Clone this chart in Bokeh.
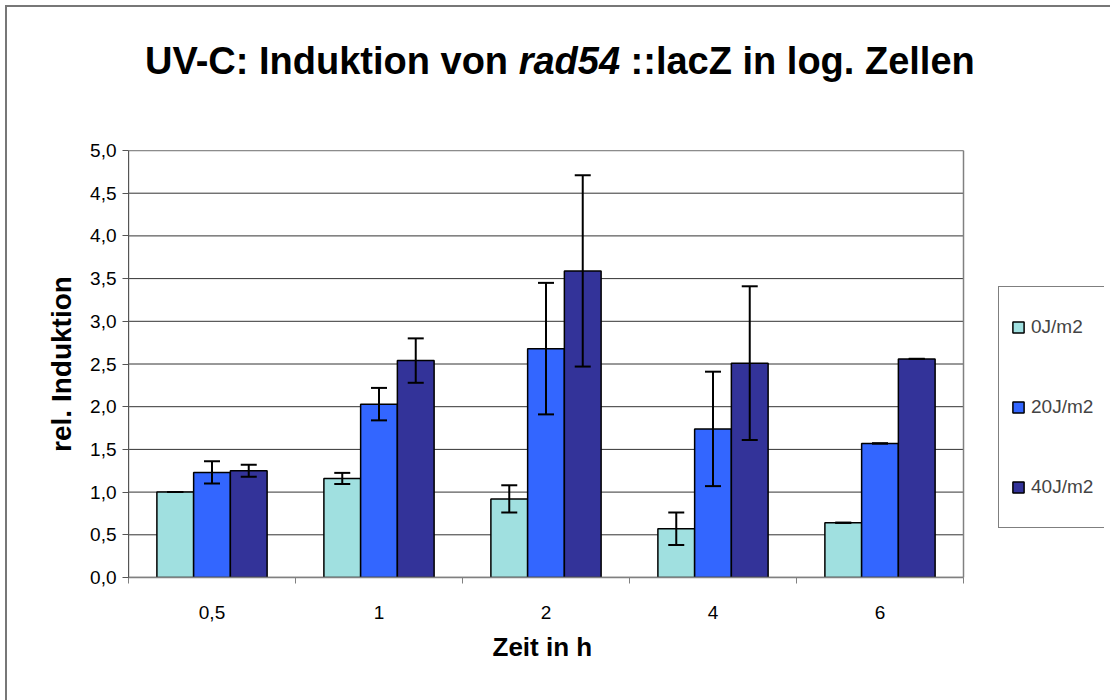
from bokeh.plotting import figure
from bokeh.models import (Range1d, FixedTicker, CustomJSTickFormatter, Legend, LegendItem,
                          Whisker, ColumnDataSource, TeeHead, Div, Title)
from bokeh.layouts import column
from bokeh.embed import file_html
from bokeh.resources import INLINE

# ---- data ----
times = ["0,5", "1", "2", "4", "6"]
series = ["0J/m2", "20J/m2", "40J/m2"]
colors = ["#A0E0E0", "#3366FF", "#333399"]
vals_0 = [1.00, 1.16, 0.92, 0.57, 0.64]
vals_20 = [1.23, 2.03, 2.68, 1.74, 1.57]
vals_40 = [1.25, 2.54, 3.59, 2.51, 2.56]
err_0 = [0.0, 0.065, 0.16, 0.19, 0.0]
err_20 = [0.13, 0.19, 0.77, 0.67, 0.0]
err_40 = [0.07, 0.26, 1.12, 0.90, 0.0]
y_ticks = [0.0, 0.5, 1.0, 1.5, 2.0, 2.5, 3.0, 3.5, 4.0, 4.5, 5.0]
x_title = "Zeit  in h"
y_title = "rel. Induktion"

FONT = "Liberation Sans"
W = 1106
H = 696
DIV_H = 100
PLOT_L, PLOT_R, PLOT_T, PLOT_B = 128, 963, 150, 577   # plot-area edges (px)
N = len(times)
x_end = N * (W - 2 - PLOT_L) / (PLOT_R - PLOT_L)     # frame extends right to hold legend

title_html = (
    '<div style="position:absolute;left:5px;top:5px;width:1300px;height:900px;'
    'border-left:2px solid #777;border-top:2px solid #777;pointer-events:none;"></div>'
    '<div style="position:absolute;left:145px;top:43px;line-height:37px;white-space:nowrap;'
    "font-family:'Liberation Sans',Arial,sans-serif;font-weight:bold;font-size:38px;color:black;\">"
    'UV-C: Induktion von <i>rad54</i> ::lacZ in log. Zellen</div>'
)
title_div = Div(text=title_html, width=W, height=DIV_H, margin=0,
                styles={"position": "relative", "overflow": "visible"})

p = figure(width=W, height=H - DIV_H, output_backend="svg", toolbar_location=None,
           x_range=Range1d(0, x_end), y_range=Range1d(0, 5),
           min_border_left=PLOT_L, min_border_right=2, min_border_top=PLOT_T - DIV_H,
           min_border_bottom=H - PLOT_B, margin=0)
p.background_fill_color = None
p.border_fill_color = None
p.outline_line_color = None

# horizontal gridlines across the plot area
p.segment(x0=[0] * len(y_ticks), x1=[N] * len(y_ticks), y0=y_ticks, y1=y_ticks,
          line_color="#333333", line_width=1)
# plot-area border
p.quad(left=[0], right=[N], bottom=[0], top=[5], fill_color=None,
       line_color="#808080", line_width=1.5)

bar_w = 0.22
renderers = []
for j, (vals, errs) in enumerate([(vals_0, err_0), (vals_20, err_20), (vals_40, err_40)]):
    xs = [i + 0.5 + (j - 1) * bar_w for i in range(N)]
    src = ColumnDataSource(dict(
        x=xs, top=vals,
        upper=[v + e for v, e in zip(vals, errs)],
        lower=[v - e for v, e in zip(vals, errs)],
    ))
    r = p.vbar(x="x", top="top", width=bar_w, source=src, fill_color=colors[j],
               line_color="black", line_width=1.5)
    renderers.append(r)
    w = Whisker(source=src, base="x", upper="upper", lower="lower", level="overlay",
                line_color="black", line_width=2,
                upper_head=TeeHead(size=16, line_color="black", line_width=2),
                lower_head=TeeHead(size=16, line_color="black", line_width=2))
    p.add_layout(w)

p.xgrid.visible = False
p.ygrid.visible = False

# y axis
p.yaxis.ticker = FixedTicker(ticks=y_ticks)
p.yaxis.formatter = CustomJSTickFormatter(code="return tick.toFixed(1).replace('.', ',');")
p.yaxis.major_tick_out = 6
p.yaxis.major_tick_in = 0
p.yaxis.minor_tick_out = 0
p.yaxis.minor_tick_in = 0
p.yaxis.axis_line_color = "#555555"
p.yaxis.major_tick_line_color = "#555555"
p.yaxis.major_label_text_font = FONT
p.yaxis.major_label_text_font_size = "19px"
p.yaxis.major_label_text_color = "black"
p.yaxis.major_label_standoff = 6
p.yaxis.axis_label = y_title
p.yaxis.axis_label_text_font = FONT
p.yaxis.axis_label_text_font_style = "bold"
p.yaxis.axis_label_text_font_size = "28px"
p.yaxis.axis_label_text_color = "black"
p.yaxis.axis_label_standoff = 10

# x axis (category ticks between groups, labels centred)
p.xaxis.bounds = (0, N)
p.xaxis.ticker = FixedTicker(ticks=[i + 0.5 for i in range(N)],
                             minor_ticks=list(range(N + 1)))
p.xaxis.formatter = CustomJSTickFormatter(args=dict(labels=times),
                                          code="return labels[Math.floor(tick)];")
p.xaxis.major_tick_out = 0
p.xaxis.major_tick_in = 0
p.xaxis.minor_tick_out = 6
p.xaxis.minor_tick_in = 0
p.xaxis.axis_line_color = "#808080"
p.xaxis.axis_line_width = 1.5
p.xaxis.minor_tick_line_color = "#808080"
p.xaxis.major_label_text_font = FONT
p.xaxis.major_label_text_font_size = "19px"
p.xaxis.major_label_text_color = "black"
p.xaxis.major_label_standoff = 22

# x-axis title, centred under the plot area (the frame is wider because of the legend)
p.add_layout(Title(text=x_title, align="left", offset=364, standoff=16,
                   text_font=FONT, text_font_style="bold", text_font_size="26px",
                   text_color="black"), "below")

legend = Legend(items=[LegendItem(label=s, renderers=[r]) for s, r in zip(series, renderers)],
                location=(998 - PLOT_L, PLOT_B - 528), orientation="vertical",
                border_line_color="black", border_line_width=1,
                background_fill_color="white", background_fill_alpha=1,
                label_text_font=FONT, label_text_font_size="19px",
                glyph_width=14, glyph_height=14, label_height=56, spacing=24,
                padding=12, label_standoff=6, margin=0)
p.add_layout(legend)

layout = column(title_div, p, spacing=0)
open("out.html", "w").write(file_html(layout, INLINE))
